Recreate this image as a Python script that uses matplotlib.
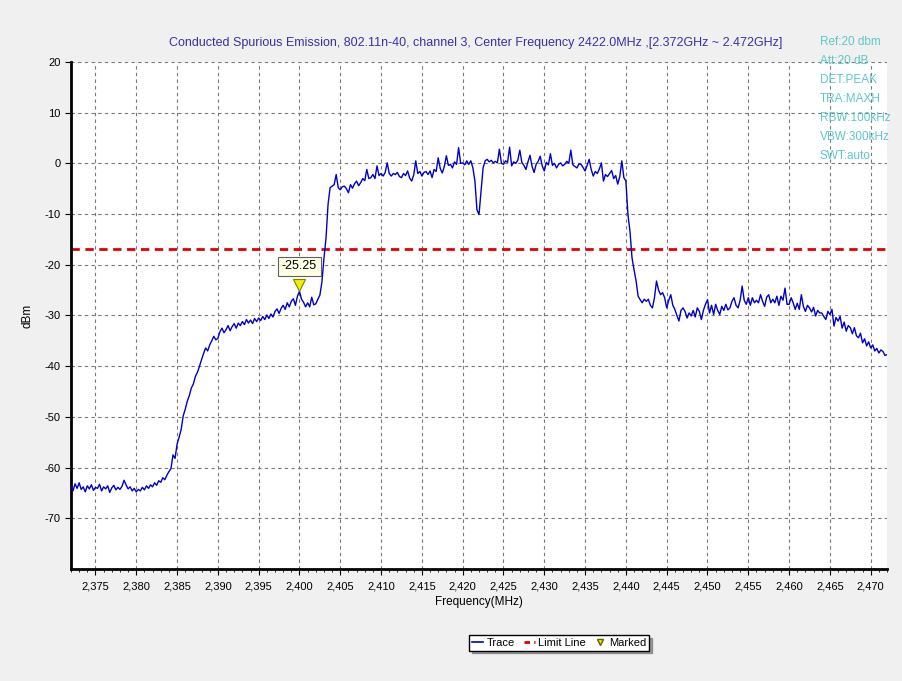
"""
Conducted spurious emission plot, 802.11n-40 channel 3.
"""

import numpy as np
import matplotlib

matplotlib.use("Agg")
import matplotlib.pyplot as plt
from matplotlib import font_manager
from matplotlib.lines import Line2D
from matplotlib.ticker import FuncFormatter, MultipleLocator

# sweep: 2372 MHz .. 2472 MHz, one point every 0.25 MHz
f_start, f_stop, f_step = 2372.0, 2472.0, 0.25

lower_floor = [
    -63.5, -64.6, -63.2, -64.1,
    -63.0, -64.3, -63.8, -64.8,
    -63.6, -64.2, -63.4, -64.5,
    -63.9, -64.1, -63.3, -64.6,
    -63.8, -64.2, -63.6, -64.9,
    -64.0, -63.5, -64.4, -63.9,
    -64.3, -63.7, -62.5, -63.4,
    -64.2, -63.8, -64.6, -64.1,
    -64.8, -64.3, -64.6, -63.9,
    -64.4, -63.6, -64.1, -63.4,
    -63.8, -63.0, -63.5, -62.6,
    -62.9, -62.0, -62.4, -61.5,
]

lower_skirt = [
    -60.8, -60.2, -57.5, -58.2,
    -55.4, -54.0, -52.5, -49.8,
    -48.5, -46.9, -45.8, -44.3,
    -43.5, -42.0, -41.2, -40.0,
    -38.7, -37.5, -36.4, -37.0,
    -35.8, -35.0, -34.1, -34.8,
    -34.5, -33.2, -32.5, -33.4,
    -32.8, -32.0, -33.0, -32.2,
    -31.6, -32.5, -31.5, -32.0,
    -31.2, -31.8, -30.8, -31.5,
    -30.9, -31.6, -30.6, -31.2,
    -30.5, -31.0, -30.2, -30.8,
    -29.9, -30.6, -29.7, -30.3,
    -29.2, -28.7, -29.6, -28.6,
    -28.0, -28.8, -27.5, -28.3,
    -27.2, -26.7, -28.0, -26.2,
    -25.25, -26.8, -27.4, -28.3,
    -27.5, -28.3, -26.4, -27.9,
    -27.7, -26.8, -26.0, -23.4,
]

in_band = [
    -18.7, -14.8, -8.1, -4.8,
    -4.5, -4.2, -2.2, -4.8,
    -5.2, -4.6, -4.5, -5.0,
    -5.8, -4.2, -4.9, -4.0,
    -3.5, -4.4, -3.8, -3.0,
    -3.4, -1.2, -3.0, -2.8,
    -2.2, -3.0, -0.5, -2.4,
    -2.0, -2.5, -1.8, 0.1,
    -2.0, -2.5, -2.0, -2.2,
    -1.8, -2.6, -2.8, -2.0,
    -2.4, -1.5, -2.9, -3.5,
    -2.3, 0.5, -2.0, -1.6,
    -2.5, -1.8, -1.6, -2.2,
    -1.5, -2.8, -1.2, -1.6,
    1.1, -1.0, -1.9, -0.6,
    1.5, -0.4, -0.2, -0.9,
    0.3, -0.2, 3.1, 0.0,
    0.1, -0.3, 0.5, -0.2,
    0.5, -0.9, -3.5, -9.2,
    -10.1, -5.5, -0.9, 0.5,
    0.8, 0.3, 0.6, 0.1,
    0.4, 0.1, 2.8, 0.0,
    -0.2, 0.5, 0.2, 3.2,
    -0.5, 0.3, 0.0, 0.6,
    2.6, 0.2, -0.4, -1.2,
    0.3, 1.6, -0.6, -1.8,
    -0.2, 0.4, 1.4, -0.5,
    -1.5, 0.2, -0.3, 1.9,
    -0.4, 0.0, -0.9, -0.2,
    0.1, -0.5, -0.2, 0.4,
    0.0, 2.6, -0.3, -0.6,
    -0.9, -0.1, -0.2, -0.8,
    -1.5, -0.4, 0.8, -1.2,
    -2.5, -1.6, -2.0, -1.1,
    0.1, -3.5, -2.2, -2.6,
    -2.0, -1.4, -3.0, -2.4,
    -4.1, -2.6, 0.5, -2.8,
    -3.5, -10.1, -13.4, -18.6,
]

upper_skirt = [
    -21.0, -23.2, -26.2, -26.9,
    -27.5, -26.8, -27.2, -26.8,
    -28.0, -28.5, -26.5, -23.2,
    -25.0, -25.9, -25.5, -26.5,
    -28.5, -27.0, -25.9, -28.0,
    -28.8, -30.0, -31.1, -29.0,
    -28.5, -29.2, -30.5, -29.5,
    -30.1, -29.0, -30.3, -28.5,
    -29.2, -30.8, -29.0, -27.8,
    -26.9, -29.5, -28.0, -29.8,
    -27.8, -29.0, -29.8, -28.2,
    -29.0, -27.8, -28.9, -28.5,
    -27.2, -26.5, -28.0, -28.5,
    -27.0, -24.2, -27.0, -27.8,
    -26.5, -28.0, -26.5, -27.5,
    -27.0, -27.5, -25.9, -27.2,
    -28.2, -26.4, -25.9, -27.5,
    -26.8, -27.5, -26.2, -28.0,
    -26.2, -27.0, -24.6, -27.8,
    -27.8, -26.5, -27.5, -28.8,
    -27.6, -28.8, -25.9, -28.2,
    -29.2, -28.0, -28.5, -29.3,
    -28.4, -30.1, -29.0, -29.5,
    -29.5, -30.2, -30.8, -29.2,
    -29.8, -28.8, -32.1, -30.4,
    -31.1, -30.2, -32.5, -31.3,
    -33.1, -32.0, -32.4, -33.6,
    -32.4, -34.0, -34.4, -33.5,
    -35.4, -34.6, -36.0, -35.2,
    -36.4, -35.8, -37.0, -36.5,
    -37.4, -36.8, -37.1, -37.9,
    -37.7,
]

limit_dbm = -16.8
marker_freq = 2400.0
marker_dbm = -25.25

settings = ["Ref:20 dbm", "Att:20 dB", "DET:PEAK", "TRA:MAXH",
            "RBW:100kHz", "VBW:300kHz", "SWT:auto"]
title = ("Conducted Spurious Emission, 802.11n-40, channel 3, "
         "Center Frequency 2422.0MHz ,[2.372GHz ~ 2.472GHz]")


def main():
    names = {f.name for f in font_manager.fontManager.ttflist}
    family = "Liberation Sans Narrow" if "Liberation Sans Narrow" in names else "Liberation Sans"
    plt.rcParams["font.family"] = [family, "DejaVu Sans"]
    plt.rcParams["axes.unicode_minus"] = False

    level = np.array(lower_floor + lower_skirt + in_band + upper_skirt)
    freq = f_start + f_step * np.arange(len(level))

    fig = plt.figure(figsize=(9.02, 6.81), dpi=100, facecolor="#f0f0f0")
    ax = fig.add_axes([0.0787, 0.1645, 0.9047, 0.7445])
    ax.set_facecolor("white")

    ax.plot(freq, level, color="#0000c8", lw=1.0, zorder=3)
    ax.axhline(limit_dbm, color="#e00000", lw=2.0, dashes=(3, 2), zorder=2)

    ax.plot([marker_freq], [marker_dbm + 1.2], marker="v", ms=8,
            color="#f0f000", mec="#808000", mew=0.8, ls="none", zorder=4)
    ax.annotate(f"{marker_dbm:.2f}", (marker_freq, marker_dbm),
                xytext=(0, 18), textcoords="offset points",
                ha="center", va="center", fontsize=9,
                bbox=dict(boxstyle="square,pad=0.3", fc="#ffffe6", ec="#606060", lw=0.8),
                zorder=5)

    ax.set_xlim(f_start, f_stop)
    ax.set_ylim(-80, 20)
    ax.xaxis.set_major_locator(MultipleLocator(5))
    ax.xaxis.set_minor_locator(MultipleLocator(1))
    ax.xaxis.set_major_formatter(FuncFormatter(lambda v, p: f"{v:,.0f}"))
    ax.set_yticks(np.arange(-70, 21, 10))
    ax.tick_params(axis="both", labelsize=8, direction="out", length=4, width=0.8)
    ax.tick_params(axis="x", which="minor", length=2.5, width=0.6)
    ax.tick_params(axis="x", pad=5)

    ax.grid(True, which="major", color="#777777", lw=0.8, dashes=(3, 3))
    for side in ("top", "right"):
        ax.spines[side].set_visible(False)
    for side in ("left", "bottom"):
        ax.spines[side].set_linewidth(2.0)
        ax.spines[side].set_color("black")

    ax.set_xlabel("Frequency(MHz)", fontsize=8.5, labelpad=3)
    ax.set_ylabel("dBm", fontsize=8.5, labelpad=8)

    fig.text(0.527, 0.937, title, ha="center", va="center",
             fontsize=9, color="#3a2fa8")
    for i, s in enumerate(settings):
        fig.text(0.909, 1 - (42 + 19 * i) / 681, s, ha="left", va="center",
                 fontsize=8.5, color="#5ec8c8")

    handles = [
        Line2D([], [], color="#0000c8", lw=1.2),
        Line2D([], [], color="#e00000", lw=2.0, dashes=(2, 1.5)),
        Line2D([], [], marker="v", ms=5, color="#f0f000", mec="#606000", ls="none"),
    ]
    fig.legend(handles, ["Trace", "Limit Line", "Marked"], loc="center",
               bbox_to_anchor=(0.62, 0.056), ncol=3, fontsize=8,
               frameon=True, fancybox=False, shadow=True, edgecolor="black",
               handlelength=1.0, handletextpad=0.3, columnspacing=0.8,
               borderpad=0.25, framealpha=1)

    fig.savefig("out.png", dpi=100, facecolor=fig.get_facecolor())


if __name__ == "__main__":
    main()
